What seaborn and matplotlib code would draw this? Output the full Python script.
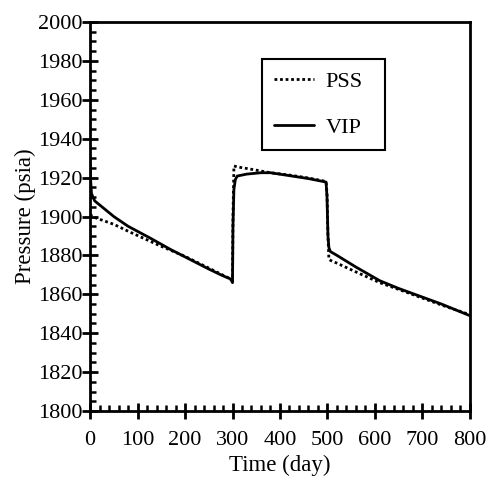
import matplotlib
matplotlib.use("Agg")
import matplotlib.pyplot as plt
import seaborn as sns
import pandas as pd
from matplotlib.ticker import MultipleLocator

# Data
vip_time = [0, 1, 3, 6, 10, 20, 35, 50, 80, 126, 170, 210, 250, 280, 295, 298, 300,
            301, 303, 306, 310, 330, 360, 380, 420, 460, 497, 499, 501, 503, 506,
            520, 560, 610, 650, 695, 740, 770, 800]
vip_pres = [1928, 1920, 1912, 1910, 1908, 1906, 1903, 1900, 1895, 1889, 1883, 1878,
            1873, 1869.5, 1868, 1867, 1866, 1895, 1914, 1919, 1920.8, 1921.8, 1922.5,
            1922.5, 1921, 1919.5, 1917.7, 1910, 1890, 1884, 1882, 1880, 1874, 1867,
            1863, 1859, 1855, 1852, 1849]
pss_time = [0, 3, 10, 21, 50, 84, 147, 200, 250, 295, 298, 300, 301, 303, 310,
            337, 380, 420, 460, 497, 499, 501, 503, 506, 520, 560, 610, 650, 695,
            740, 770, 800]
pss_pres = [1901, 1900.5, 1899.5, 1898.5, 1896, 1892, 1885, 1879.5, 1873.5, 1868,
            1867.5, 1867, 1900, 1926, 1925.5, 1924.4, 1922.5, 1921.3, 1919.8, 1918,
            1912, 1890, 1878, 1877.5, 1876, 1871.5, 1866, 1862.5, 1858.5, 1854.5,
            1852, 1849.5]

vip = pd.DataFrame({"Time": vip_time, "Pressure": vip_pres})
pss = pd.DataFrame({"Time": pss_time, "Pressure": pss_pres})

sns.set_theme(style="white")
plt.rcParams["font.family"] = ["Liberation Serif", "DejaVu Serif"]

fig = plt.figure(figsize=(4.96, 4.83), dpi=100)
ax = fig.add_axes([0.1815, 0.149, 0.766, 0.8055])

sns.lineplot(data=pss, x="Time", y="Pressure", ax=ax, color="black",
             linestyle=(0, (1, 1)), linewidth=2.0, label="PSS", sort=False)
sns.lineplot(data=vip, x="Time", y="Pressure", ax=ax, color="black",
             linestyle="-", linewidth=2.0, label="VIP", sort=False)

ax.set_xlim(0, 800)
ax.set_ylim(1800, 2000)
ax.xaxis.set_major_locator(MultipleLocator(100))
ax.xaxis.set_minor_locator(MultipleLocator(20))
ax.yaxis.set_major_locator(MultipleLocator(20))
ax.yaxis.set_minor_locator(MultipleLocator(5))

for s in ax.spines.values():
    s.set_color("black")
    s.set_linewidth(2.0)

ax.tick_params(axis="both", which="major", direction="inout", length=11, width=2,
               color="black", labelsize=16, labelcolor="black",
               bottom=True, left=True, top=False, right=False)
ax.tick_params(axis="y", which="major", pad=0)
ax.tick_params(axis="x", which="major", pad=9)
ax.tick_params(axis="both", which="minor", direction="in", length=4, width=1.8,
               color="black", bottom=True, left=True, top=False, right=False)

ax.set_xlabel("Time (day)", fontsize=16.5, color="black", labelpad=3)
ax.set_ylabel("Pressure (psia)", fontsize=16.5, color="black", labelpad=1)
ax.grid(False)

leg = ax.legend(loc="upper left", bbox_to_anchor=(0.453, 0.905, 0.324, 0),
                mode="expand", fontsize=16,
                frameon=True, fancybox=False, edgecolor="black", framealpha=1,
                handlelength=1.8, labelspacing=1.15, borderpad=0.55,
                handletextpad=0.5, borderaxespad=0)
leg.get_frame().set_linewidth(1.5)
for t in leg.get_texts():
    t.set_color("black")

fig.savefig("out.png", dpi=100)
